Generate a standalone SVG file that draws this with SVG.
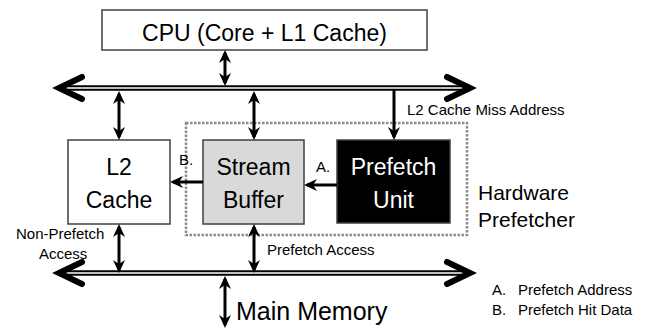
<svg xmlns="http://www.w3.org/2000/svg" width="653" height="329" viewBox="0 0 653 329">
<defs>
<style>
text{font-family:"Liberation Sans",Arial,sans-serif;fill:#000}
.box{stroke:#404040;stroke-width:1.5}
.big{font-size:23px}
.sm{font-size:15px}
.lbl{font-size:21px}
.arr{stroke:#000;stroke-width:3;fill:none}
.busb{stroke:#000;stroke-width:5.5;fill:none}
.busw{stroke:#fff;stroke-width:1.5;fill:none}
.chev{stroke:#000;stroke-width:6;fill:none;stroke-linecap:round;stroke-linejoin:miter}
</style>
<marker id="ah" markerUnits="userSpaceOnUse" viewBox="0 0 13 13" markerWidth="13" markerHeight="13" refX="10" refY="6.5" orient="auto-start-reverse">
<path d="M0,0.5 L13,6.5 L0,12.5 L4,6.5 z" fill="#000"/>
</marker>
</defs>
<g id="hw-prefetcher">
<rect x="186" y="123" width="281" height="112" fill="none" stroke="#8c8c8c" stroke-width="2.5" stroke-dasharray="2.5,1.5"/>
<text class="lbl" x="478" y="200">Hardware</text>
<text class="lbl" x="478" y="227">Prefetcher</text>
</g>
<g id="cpu">
<rect class="box" x="102" y="10" width="325" height="40" fill="#fff"/>
<text class="big" x="264.5" y="41" text-anchor="middle">CPU (Core + L1 Cache)</text>
</g>
<g id="l2">
<rect class="box" x="68" y="140" width="102" height="84" fill="#fff"/>
<text class="big" x="119" y="175" text-anchor="middle">L2</text>
<text class="big" x="119" y="208" text-anchor="middle">Cache</text>
</g>
<g id="stream-buffer">
<rect class="box" x="203" y="140" width="101" height="84" fill="#d9d9d9"/>
<text class="big" x="253.5" y="175" text-anchor="middle">Stream</text>
<text class="big" x="253.5" y="208" text-anchor="middle">Buffer</text>
</g>
<g id="prefetch-unit">
<rect class="box" x="337" y="140" width="113" height="83" fill="#000"/>
<text class="big" x="393.5" y="175" text-anchor="middle" style="fill:#fff">Prefetch</text>
<text class="big" x="393.5" y="208" text-anchor="middle" style="fill:#fff">Unit</text>
</g>
<g id="main-memory">
<text x="236" y="320" style="font-size:25px">Main Memory</text>
</g>
<g id="connectors">
<path class="busb" d="M60,88 H469"/>
<path class="busw" d="M64,88 H466"/>
<path class="chev" d="M82,77 L59,88 L82,99"/>
<path class="chev" d="M447,77 L470,88 L447,99"/>
<path class="busb" d="M60,273 H469"/>
<path class="busw" d="M64,273 H466"/>
<path class="chev" d="M82,262 L59,273 L82,284"/>
<path class="chev" d="M447,262 L470,273 L447,284"/>
<path class="arr" d="M225,53 V83" marker-start="url(#ah)" marker-end="url(#ah)"/>
<path class="arr" d="M119,94 V137" marker-start="url(#ah)" marker-end="url(#ah)"/>
<path class="arr" d="M254,94 V137" marker-start="url(#ah)" marker-end="url(#ah)"/>
<path class="arr" d="M394,90 V137" marker-end="url(#ah)"/>
<path class="arr" d="M119,227 V270" marker-start="url(#ah)" marker-end="url(#ah)"/>
<path class="arr" d="M254,227 V270" marker-start="url(#ah)" marker-end="url(#ah)"/>
<path class="arr" d="M225,279 V325" marker-start="url(#ah)" marker-end="url(#ah)"/>
<path class="arr" d="M337,185 H307" marker-end="url(#ah)"/>
<path class="arr" d="M203,182 H173" marker-end="url(#ah)"/>
<text class="sm" x="407" y="115">L2 Cache Miss Address</text>
<text class="sm" x="316" y="172">A.</text>
<text class="sm" x="179" y="165">B.</text>
<text class="sm" x="267" y="255">Prefetch Access</text>
<text class="sm" x="16" y="239">Non-Prefetch</text>
<text class="sm" x="39" y="259">Access</text>
</g>
<g id="legend">
<text class="sm" x="492" y="295">A.</text>
<text class="sm" x="518" y="295">Prefetch Address</text>
<text class="sm" x="492" y="315">B.</text>
<text class="sm" x="518" y="315">Prefetch Hit Data</text>
</g>
</svg>
